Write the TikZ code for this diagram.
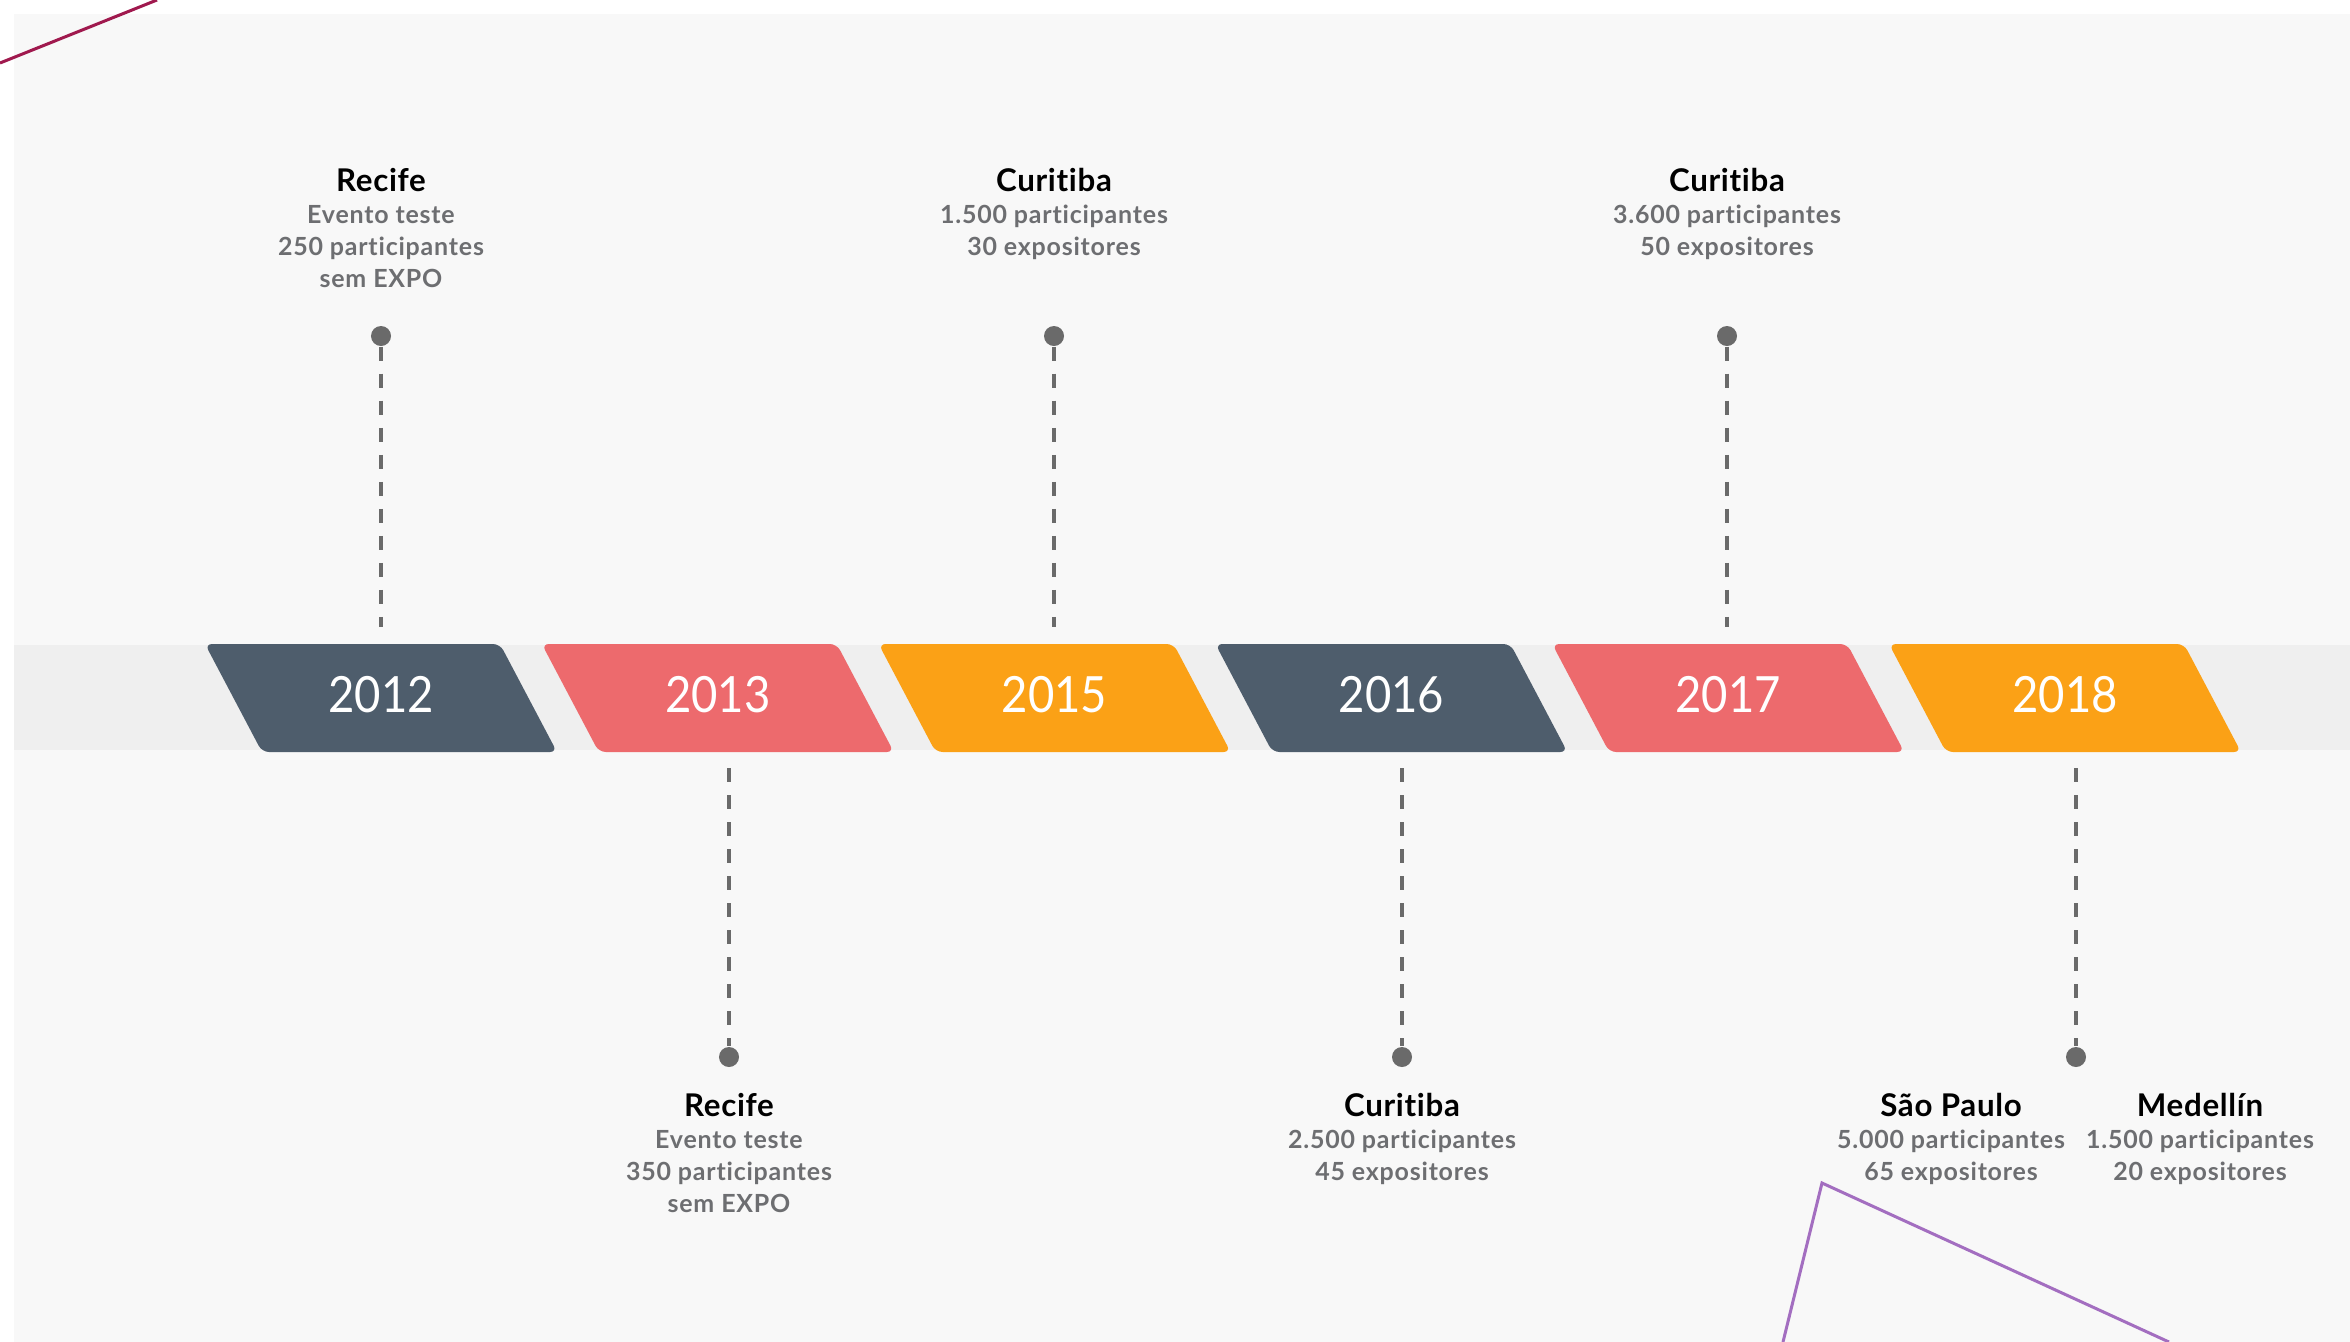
\documentclass[tikz,border=0pt]{standalone}
\usepackage{fontspec}
\setmainfont{Lato}
\newfontfamily\yearfont{Lato}[FakeStretch=0.91]
\newfontfamily\infofont{Lato}[LetterSpace=3.2, Ligatures=NoCommon]
\newfontfamily\headfont{Lato}[LetterSpace=2.2, Ligatures=NoCommon]
\usetikzlibrary{positioning}

\definecolor{slate}{HTML}{4E5D6C}
\definecolor{salmon}{HTML}{ED6A6D}
\definecolor{amber}{HTML}{FBA116}
\definecolor{bgfill}{HTML}{F8F8F8}
\definecolor{bandfill}{HTML}{EFEFEF}
\definecolor{infogray}{HTML}{6D6E71}
\definecolor{dotgray}{HTML}{6A6A6A}
\definecolor{maroon}{HTML}{A0194E}
\definecolor{lilac}{HTML}{A36EC0}

\newcommand{\titlefont}{\headfont\fontsize{8.9}{9.1}\selectfont\bfseries\color{black}}

\begin{document}
\begin{tikzpicture}[x=0.01cm, y=-0.01cm,
    year/.style={text=white, inner sep=0pt, font=\yearfont\fontsize{14.2}{16}\selectfont},
    pin/.style={circle, fill=dotgray, inner sep=0pt, minimum size=0.2cm},
    guide/.style={dotgray, line width=0.035cm, dash pattern=on 0.14cm off 0.13cm},
    info/.style={align=center, anchor=north, text=infogray, inner sep=0pt,
        font=\infofont\fontsize{7.1}{9.1}\selectfont\bfseries}]
    \useasboundingbox (0,0) rectangle (2350,1342);

    % background, band and the stray strokes
    \fill[white] (0,0) rectangle (2350,1342);
    \fill[bgfill] (14,14) rectangle (2350,1342);
    \fill[bandfill] (14,645) rectangle (2350,750);
    \draw[maroon, line width=0.03cm] (0,63) -- (157,0);
    \draw[lilac, line width=0.03cm] (1783,1342) -- (1822,1183) -- (2169,1342);

    % year badges
    \foreach \yr/\col [count=\i from 0] in {2012/slate,2013/salmon,2015/amber,2016/slate,2017/salmon,2018/amber} {
        \pgfmathsetmacro\cx{381+336.8*\i}
        \fill[\col, rounded corners=2pt] (\cx-176,644) -- (\cx+119,644) -- (\cx+176,752) -- (\cx-119,752) -- cycle;
        \node[year] (y\yr) at (\cx,695) {\yr};
    }

    % events above the band
    \foreach \name/\x in {a2012/381,a2015/1054,a2017/1727} {
        \node[pin] (p\name) at (\x,336) {};
        \coordinate (g\name) at (\x,627);
        \draw[guide] (p\name) -- (g\name);
    }
    \node[info] (ia2012) at (381,168) {{\titlefont Recife}\\Evento teste\\250 participantes\\sem EXPO};
    \node[info] (ia2015) at (1054,168) {{\titlefont Curitiba}\\1.500 participantes\\30 expositores};
    \node[info] (ia2017) at (1727,168) {{\titlefont Curitiba}\\3.600 participantes\\50 expositores};

    % events below the band
    \foreach \name/\x in {b2013/729,b2016/1402,b2018/2076} {
        \node[pin] (p\name) at (\x,1057) {};
        \coordinate (g\name) at (\x,768);
        \draw[guide] (g\name) -- (p\name);
    }
    \node[info] (ib2013) at (729,1093) {{\titlefont Recife}\\Evento teste\\350 participantes\\sem EXPO};
    \node[info] (ib2016) at (1402,1093) {{\titlefont Curitiba}\\2.500 participantes\\45 expositores};
    \node[info] (ib2018s) at (1951,1093) {{\titlefont São Paulo}\\5.000 participantes\\65 expositores};
    \node[info] (ib2018m) at (2200,1093) {{\titlefont Medellín}\\1.500 participantes\\20 expositores};
\end{tikzpicture}
\end{document}
